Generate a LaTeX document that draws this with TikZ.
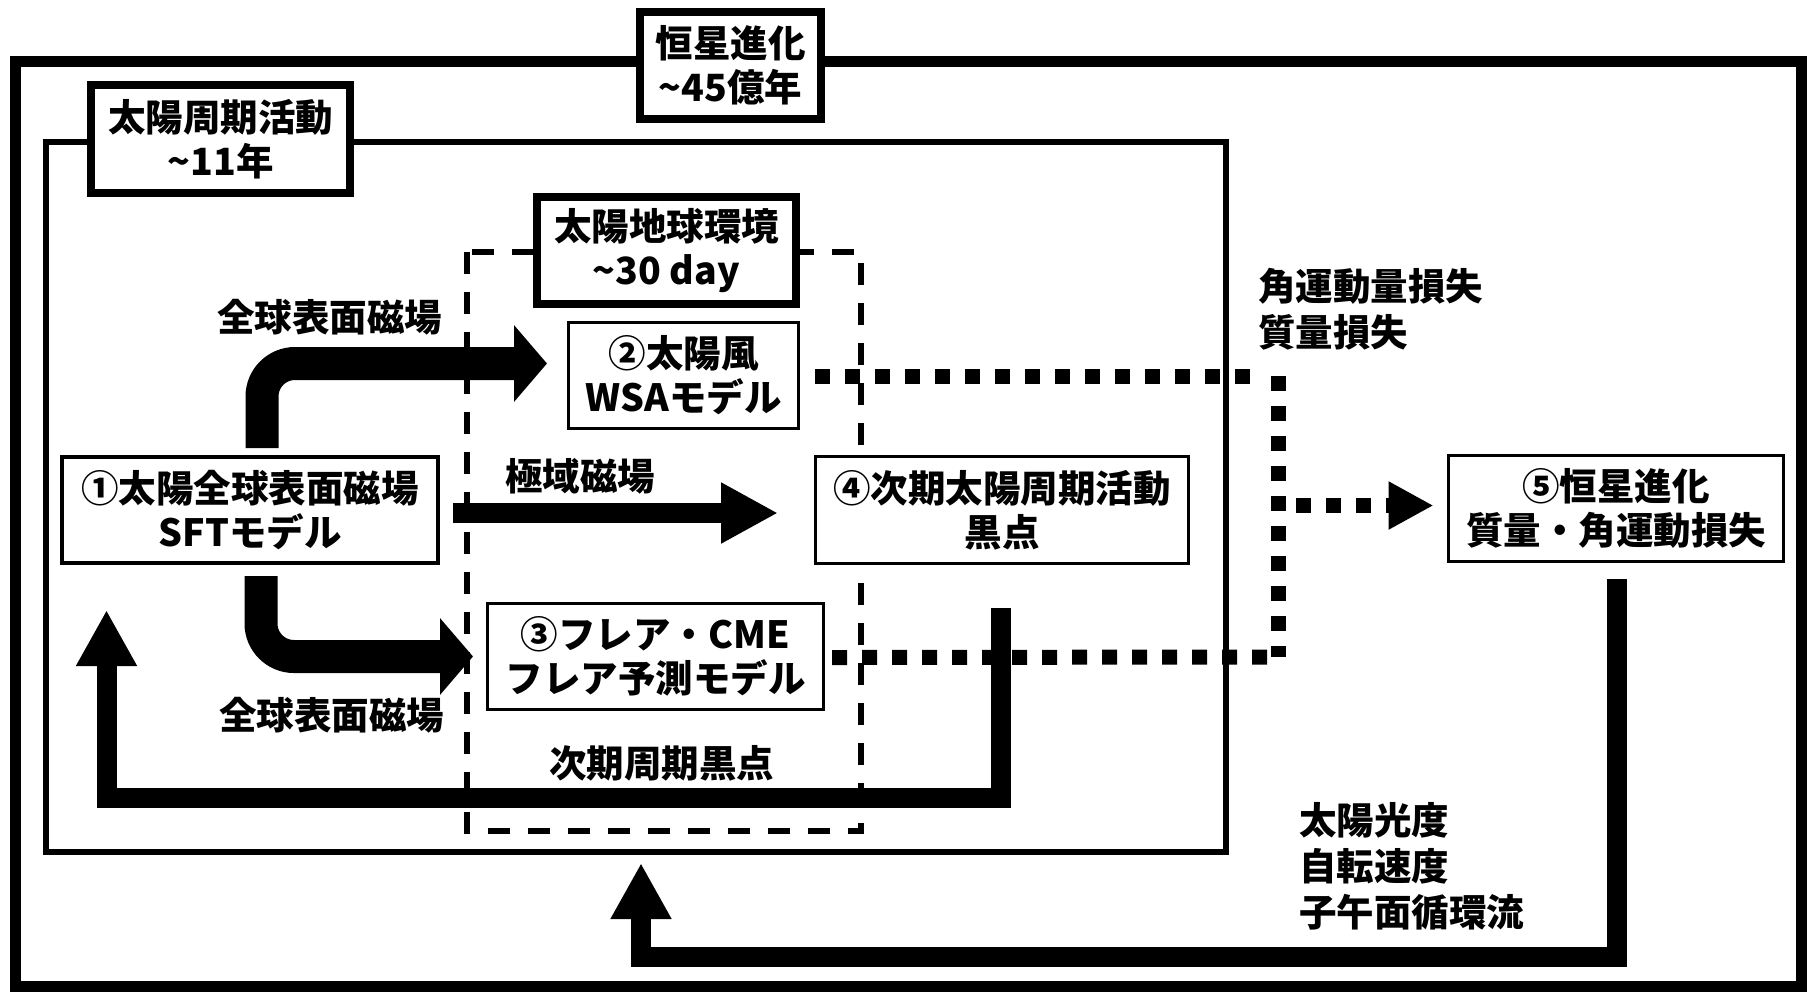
\documentclass[tikz,border=0pt]{standalone}
\usepackage{fontspec}
\setmainfont{Noto Sans CJK JP}
\usetikzlibrary{arrows.meta}
\begin{document}
\begin{tikzpicture}[x=0.5pt,y=-0.5pt,
  every node/.style={font=\fontsize{18.75}{22}\selectfont\bfseries, inner sep=0pt, outer sep=0pt},
  modelbox/.style={draw, line width=1.7pt, fill=white, align=center},
  labelbox/.style={draw, line width=4pt, fill=white, align=center},
  freetext/.style={font=\fontsize{18.75}{23}\selectfont\bfseries, align=left, anchor=west},
  fat/.style={line width=16.5pt, rounded corners=16.5pt, -{Triangle[length=16.5pt,width=37.5pt]}},
  midarrow/.style={line width=10pt, -{Triangle[length=28.5pt,width=28.5pt]}},
  fbarrow/.style={line width=10pt, -{Triangle[length=28pt,width=28.5pt]}},
  sqdots/.style={line width=7.5pt, dash pattern=on 7.5pt off 7.5pt},
]
\useasboundingbox (0,0) rectangle (1807,992);
\fill[white] (0,0) rectangle (1807,992);

% frames
\draw[line width=5.5pt] (15.5,61.5) rectangle (1801.5,986.5);
\draw[line width=3pt] (46,142) rectangle (1226,852);
\draw[line width=3pt, dash pattern=on 11pt off 9pt] (466.5,252) rectangle (861,831);

% frame labels
\node[labelbox, minimum width=90.5pt, minimum height=53.5pt] (L1) at (730.5,65.5) {恒星進化\\\textasciitilde45億年};
\node[labelbox, minimum width=129.5pt, minimum height=54pt] (L2) at (220.5,139) {太陽周期活動\\\textasciitilde11年};
\node[labelbox, minimum width=129.5pt, minimum height=53.5pt] (L3) at (666.5,250.5) {太陽地球環境\\\textasciitilde30 day};

% model nodes
\node[modelbox, minimum width=188pt, minimum height=53pt] (n1) at (250,510) {①太陽全球表面磁場\\SFTモデル};
\node[modelbox, minimum width=115pt, minimum height=53pt] (n2) at (683.5,375.5) {②太陽風\\WSAモデル};
\node[modelbox, minimum width=168pt, minimum height=53pt] (n3) at (655.5,656.5) {③フレア・CME\\フレア予測モデル};
\node[modelbox, minimum width=186.5pt, minimum height=53.5pt] (n4) at (1002,510) {④次期太陽周期活動\\黒点};
\node[modelbox, minimum width=167.5pt, minimum height=53pt] (n5) at (1616,508.5) {⑤恒星進化\\質量・角運動損失};

% helper coordinates
\coordinate (j1) at (1278,376);
\coordinate (j2) at (1278,657);
\coordinate (j3) at (1278,505.5);
\coordinate (sunfb) at (641,863);

% dotted connectors
\draw[sqdots] ([shift={(16.5,0.5)}]n2.east) -- ([shift={(-16,0)}]j1);
\draw[sqdots] (j1) -- (j2);
\draw[sqdots] ([shift={(8.5,1)}]n3.east) -- (j2);
\draw[sqdots, -{Triangle[length=22.5pt,width=22.5pt]}] ([shift={(18,0)}]j3) -- ([shift={(-15,-3)}]n5.west);

% fat arrows
\draw[fat] ([shift={(12,-9)}]n1.north) |- ([shift={(-21.5,-12)}]n2.west);
\draw[fat] ([shift={(11,13)}]n1.south) |- ([shift={(-14.5,0)}]n3.west);

% polar field arrow
\draw[midarrow] ([shift={(15,3)}]n1.east) -- ([shift={(-37.5,3)}]n4.west);

% feedback arrows
\draw[fbarrow] ([shift={(-1.5,44.5)}]n4.south) -- ++(0,190) -| ([shift={(44.5,47)}]n1.south west);
\draw[fbarrow] ([shift={(1,17.5)}]n5.south) -- ++(0,378) -| (sunfb);

% labels
\node (t1) at (329.5,317.5) {全球表面磁場};
\node (t2) at (580,476.5) {極域磁場};
\node (t3) at (331.5,715) {全球表面磁場};
\node (t4) at (661.5,763.5) {次期周期黒点};
\node[freetext] (t5) at (1258,309.5) {角運動量損失\\質量損失};
\node[freetext] (t6) at (1299,866) {太陽光度\\自転速度\\子午面循環流};
\end{tikzpicture}
\end{document}
